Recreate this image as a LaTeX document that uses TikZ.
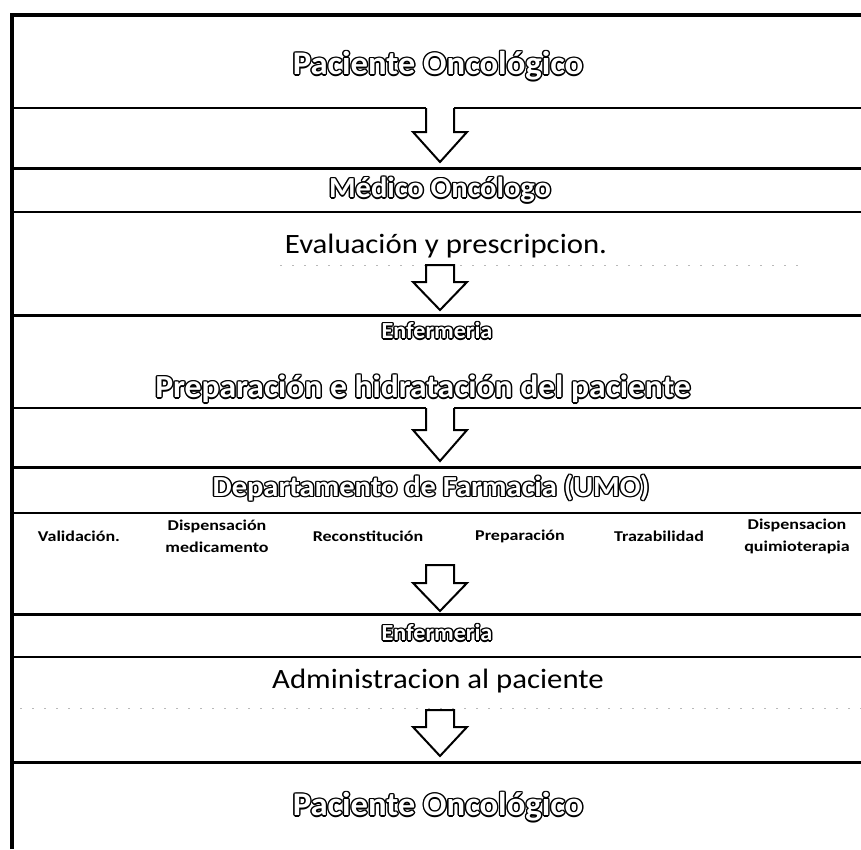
\documentclass[tikz,border=0pt]{standalone}
\usepackage{fontspec}
\setmainfont{Carlito}[FakeStretch=1.2]
\newfontfamily\ttlfont{Carlito}[FakeStretch=1.05]
\newfontfamily\plainfont{Carlito}[FakeStretch=1.1]
\newcommand\olk[2]{\rlap{\kern#1\raisebox{#2}{\copy0}}}
\newcommand\outl[1]{\setbox0\hbox{#1}\hbox{\color{black}\olk{1.4pt}{0pt}\olk{-1.4pt}{0pt}\olk{0pt}{1.4pt}\olk{0pt}{-1.4pt}\olk{1pt}{1pt}\olk{-1pt}{1pt}\olk{1pt}{-1pt}\olk{-1pt}{-1pt}\color{white}\box0}}
\tikzset{
  ttl/.style={inner sep=0pt, font=\ttlfont\bfseries\fontsize{#1}{#1}\selectfont},
  plain/.style={inner sep=0pt, font=\plainfont\fontsize{28}{30}\selectfont},
  item/.style={inner sep=0pt, align=center, font=\bfseries\fontsize{15}{22}\selectfont},
  thickrule/.style={line width=3pt},
  thinrule/.style={line width=1.8pt},
  faintrule/.style={line width=1pt, gray!55, dash pattern=on 2pt off 10pt},
  barrow/.style={draw=black, fill=white, line width=2pt, line join=miter},
}
\newcommand\blockarrow[3]{%
  \draw[barrow] (#1) ++(-14,0) -- ++(0,#2) -- ++(-13,0) -- ++(27,#3) -- ++(27,-#3) -- ++(-13,0) -- ++(0,-#2) -- cycle;}
\newcommand\openarrow[3]{%
  \fill[white] (#1) ++(-14,0) -- ++(0,#2) -- ++(-13,0) -- ++(27,#3) -- ++(27,-#3) -- ++(-13,0) -- ++(0,-#2) -- cycle;
  \draw[barrow] (#1) ++(-14,0) -- ++(0,#2) -- ++(-13,0) -- ++(27,#3) -- ++(27,-#3) -- ++(-13,0) -- ++(0,-#2);}
\begin{document}
\begin{tikzpicture}[x=1pt,y=-1pt]
\useasboundingbox[fill=white] (0,0) rectangle (861,849);
% frame lines
\draw[line width=4pt] (12,849) -- (12,15) -- (861,15);
\draw[thinrule] (12,108) -- (426,108);
\draw[thinrule] (454,108) -- (861,108);
\draw[thickrule] (12,168) -- (861,168);
\draw[thinrule] (12,212) -- (861,212);
\draw[faintrule] (280,265) -- (800,265);
\draw[thickrule] (12,315) -- (861,315);
\draw[thinrule] (12,408) -- (426,408);
\draw[thinrule] (454,408) -- (861,408);
\draw[thickrule] (12,467) -- (861,467);
\draw[thinrule] (12,513) -- (861,513);
\draw[thickrule] (12,614) -- (861,614);
\draw[thinrule] (12,657) -- (861,657);
\draw[faintrule] (20,708) -- (861,708);
\draw[thickrule] (12,762) -- (861,762);
% texts
\node[ttl=33] (p1) at (438,66) {\outl{Paciente Oncológico}};
\node[ttl=29] (med) at (440,190) {\outl{Médico Oncólogo}};
\node[plain] (ev) at (446,246) {Evaluación y prescripcion.};
\node[ttl=23] (enf1) at (437,331) {\outl{Enfermeria}};
\node[ttl=32] (prep) at (423,389) {\outl{Preparación e hidratación del paciente}};
\node[ttl=29] (dep) at (431,488) {\outl{Departamento de Farmacia (UMO)}};
\node[item] (i1) at (79,536) {Validación.};
\node[item] (i2) at (217,536) {Dispensación\\medicamento};
\node[item] (i3) at (368,536) {Reconstitución};
\node[item] (i4) at (520,536) {Preparación};
\node[item] (i5) at (659,536) {Trazabilidad};
\node[item] (i6) at (797,536) {Dispensacion\\quimioterapia};
\node[ttl=23] (enf2) at (437,633) {\outl{Enfermeria}};
\node[plain] (adm) at (438,681) {Administracion al paciente};
\node[ttl=33] (p2) at (438,807) {\outl{Paciente Oncológico}};
% arrows
\coordinate (a1) at (440,108);
\coordinate (a2) at (440,265);
\coordinate (a3) at (440,408);
\coordinate (a4) at (440,565);
\coordinate (a5) at (440,710);
\openarrow{a1}{24}{30}
\blockarrow{a2}{17}{28}
\openarrow{a3}{22}{31}
\blockarrow{a4}{18}{28}
\blockarrow{a5}{17}{29}
\end{tikzpicture}
\end{document}
